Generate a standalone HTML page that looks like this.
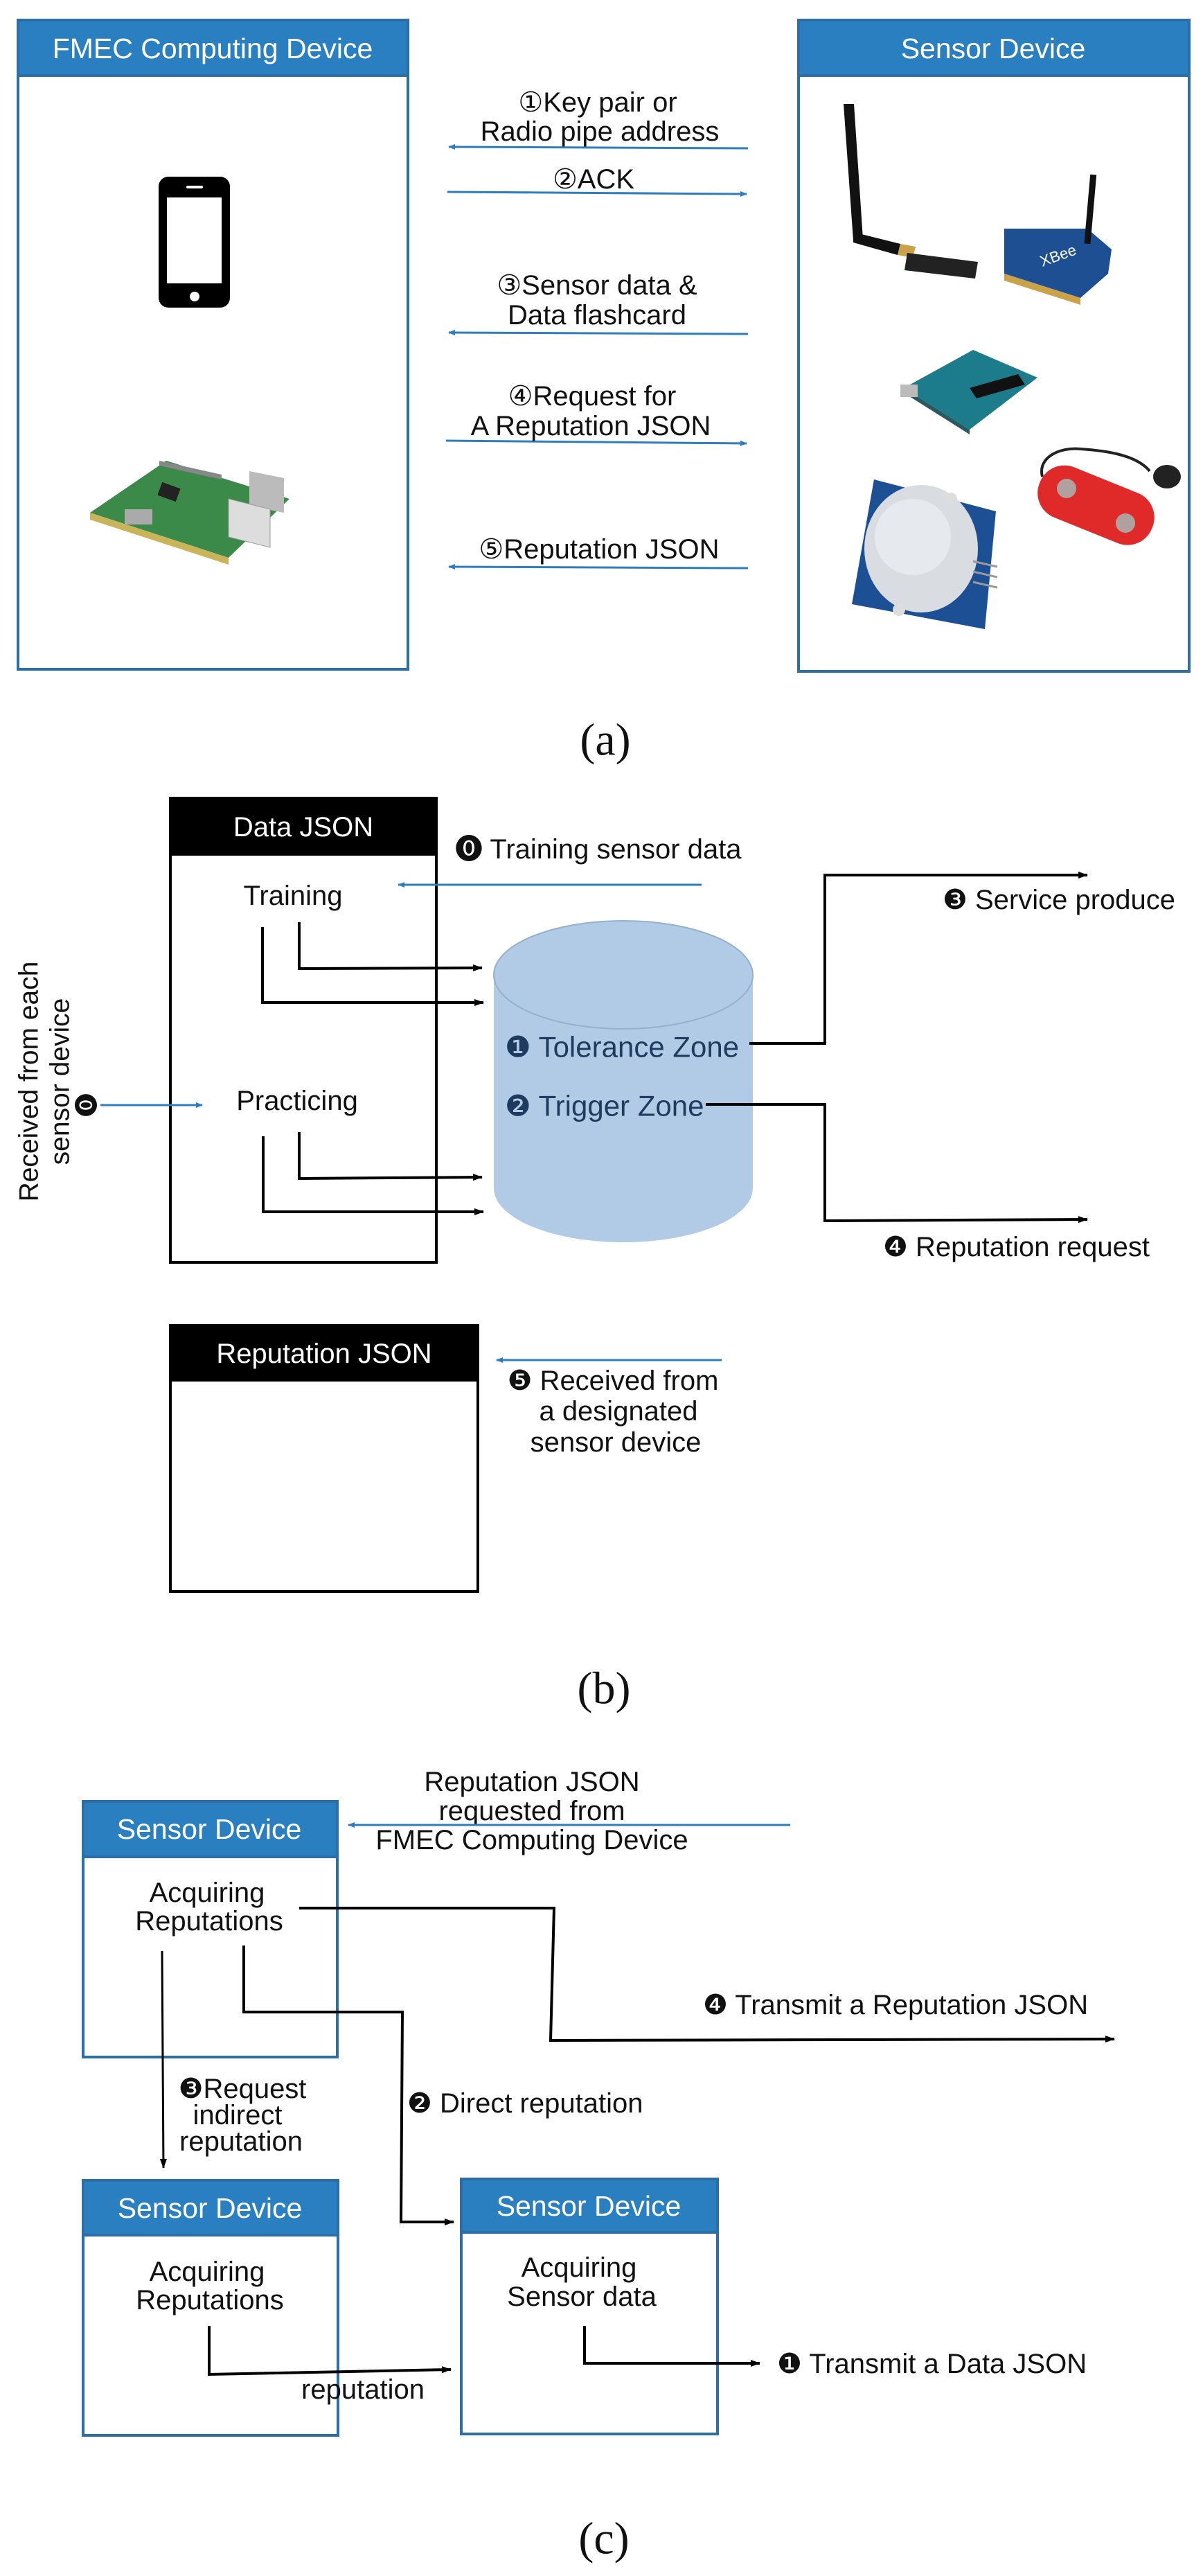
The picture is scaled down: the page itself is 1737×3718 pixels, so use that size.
<!DOCTYPE html>
<html><head><meta charset="utf-8"><style>
html,body{margin:0;padding:0;background:#fff}
svg{display:block}
text{font-family:"Liberation Sans","DejaVu Sans",sans-serif;fill:#111}
.s{font-size:40px}
.w{fill:#fff}
.cap{font-family:"Liberation Serif",serif;font-size:66px}
</style></head><body>
<svg width="1737" height="3718" viewBox="0 0 1737 3718" xmlns="http://www.w3.org/2000/svg">
<defs>
<marker id="ab" markerWidth="10" markerHeight="10" refX="9" refY="5" orient="auto" markerUnits="userSpaceOnUse"><path d="M0,1 L10,5 L0,9 z" fill="#2e7dc0"/></marker>
<marker id="ak" markerWidth="14" markerHeight="12" refX="13" refY="6" orient="auto" markerUnits="userSpaceOnUse"><path d="M0,1 L14,6 L0,11 z" fill="#000"/></marker>
</defs>

<!-- ===== Panel (a) ===== -->
<rect x="26" y="29" width="563" height="937" fill="#fff" stroke="#2e6ea6" stroke-width="4"/>
<rect x="26" y="29" width="563" height="80" fill="#2a7fc1" stroke="#2e6ea6" stroke-width="4"/>
<text x="307" y="70" class="w" font-size="41" text-anchor="middle" dominant-baseline="central">FMEC Computing Device</text>
<rect x="1153" y="29" width="564" height="940" fill="#fff" stroke="#2e6ea6" stroke-width="4"/>
<rect x="1153" y="29" width="564" height="80" fill="#2a7fc1" stroke="#2e6ea6" stroke-width="4"/>
<text x="1434" y="70" class="w" font-size="41" text-anchor="middle" dominant-baseline="central">Sensor Device</text>

<!-- phone -->
<rect x="229" y="255" width="103" height="189" rx="14" fill="#000"/>
<rect x="241" y="285" width="79" height="124" fill="#fff"/>
<rect x="269" y="268" width="24" height="4" rx="2" fill="#fff"/>
<circle cx="281" cy="428" r="7" fill="#fff"/>

<!-- raspberry pi -->
<polygon points="130,740 240,665 418,720 330,805" fill="#3c8a4a"/>
<polygon points="130,740 330,805 330,815 130,750" fill="#c9b45a"/>
<rect x="230" y="700" width="28" height="20" fill="#222" transform="rotate(20 244 710)"/>
<polygon points="360,680 410,690 410,740 360,730" fill="#bbb"/>
<polygon points="330,720 390,735 390,790 330,775" fill="#ddd" stroke="#999"/>
<polygon points="230,665 320,685 320,692 230,672" fill="#888"/>
<rect x="180" y="735" width="40" height="22" fill="#aaa"/>

<!-- antenna module 1 -->
<polygon points="1218,150 1233,150 1246,345 1232,347" fill="#111"/>
<polygon points="1232,335 1300,352 1296,368 1232,350" fill="#111"/>
<polygon points="1300,352 1322,356 1318,372 1296,368" fill="#c9a24a"/>
<polygon points="1310,365 1412,378 1408,402 1306,390" fill="#222"/>
<!-- xbee -->
<polygon points="1450,330 1570,330 1605,360 1600,395 1560,430 1450,395" fill="#1e4f92"/>
<polygon points="1450,395 1560,430 1560,440 1450,405" fill="#c9a24a"/>
<rect x="1570" y="252" width="9" height="100" fill="#111" transform="rotate(5 1575 300)"/>
<text x="1505" y="385" font-size="22" class="w" transform="rotate(-20 1505 385)">XBee</text>

<!-- arduino -->
<polygon points="1305,560 1405,505 1498,545 1400,620" fill="#1d7c8c"/>
<polygon points="1305,560 1400,620 1400,627 1305,567" fill="#2a5a60"/>
<rect x="1300" y="555" width="25" height="18" fill="#bbb"/>
<polygon points="1400,560 1470,540 1480,555 1410,575" fill="#111"/>

<!-- PIR -->
<polygon points="1262,692 1438,738 1422,908 1230,872" fill="#1d4f95"/>
<ellipse cx="1330" cy="792" rx="82" ry="92" fill="#d9dde2"/>
<ellipse cx="1318" cy="775" rx="55" ry="55" fill="#e6e9ed"/>
<circle cx="1373" cy="720" r="9" fill="#ddd"/>
<circle cx="1298" cy="880" r="9" fill="#ddd"/>
<line x1="1405" y1="810" x2="1440" y2="818" stroke="#999" stroke-width="3"/>
<line x1="1405" y1="825" x2="1440" y2="833" stroke="#999" stroke-width="3"/>
<line x1="1405" y1="840" x2="1440" y2="848" stroke="#999" stroke-width="3"/>

<!-- red sensor -->
<path d="M1505,688 C1498,660 1530,645 1560,648 C1590,650 1640,655 1660,680" fill="none" stroke="#222" stroke-width="4"/>
<ellipse cx="1685" cy="688" rx="20" ry="17" fill="#222"/>
<rect x="1495" y="690" width="175" height="78" rx="38" fill="#e02a2a" transform="rotate(22 1582 729)"/>
<circle cx="1540" cy="705" r="14" fill="#b0a0a0"/>
<circle cx="1625" cy="755" r="14" fill="#b0a0a0"/>

<!-- arrows (a) -->
<line x1="1080" y1="214" x2="648" y2="212" stroke="#2e7dc0" stroke-width="3" marker-end="url(#ab)"/>
<line x1="646" y1="277" x2="1078" y2="280" stroke="#2e7dc0" stroke-width="3" marker-end="url(#ab)"/>
<line x1="1080" y1="482" x2="648" y2="480" stroke="#2e7dc0" stroke-width="3" marker-end="url(#ab)"/>
<line x1="644" y1="636" x2="1078" y2="640" stroke="#2e7dc0" stroke-width="3" marker-end="url(#ab)"/>
<line x1="1080" y1="820" x2="648" y2="818" stroke="#2e7dc0" stroke-width="3" marker-end="url(#ab)"/>
<text x="863" y="148" class="s" text-anchor="middle" dominant-baseline="central">①Key pair or</text>
<text x="866" y="190" class="s" text-anchor="middle" dominant-baseline="central">Radio pipe address</text>
<text x="857" y="259" class="s" text-anchor="middle" dominant-baseline="central">②ACK</text>
<text x="862" y="412" class="s" text-anchor="middle" dominant-baseline="central">③Sensor data &amp;</text>
<text x="862" y="455" class="s" text-anchor="middle" dominant-baseline="central">Data flashcard</text>
<text x="855" y="572" class="s" text-anchor="middle" dominant-baseline="central">④Request for</text>
<text x="853" y="615" class="s" text-anchor="middle" dominant-baseline="central">A Reputation JSON</text>
<text x="865" y="793" class="s" text-anchor="middle" dominant-baseline="central">⑤Reputation JSON</text>
<text x="874" y="1068" class="cap" text-anchor="middle" dominant-baseline="central">(a)</text>

<!-- ===== Panel (b) ===== -->
<rect x="246" y="1152" width="384" height="670" fill="#fff" stroke="#000" stroke-width="4"/>
<rect x="246" y="1152" width="384" height="83" fill="#000"/>
<text x="438" y="1194" class="w" font-size="40" text-anchor="middle" dominant-baseline="central">Data JSON</text>
<text x="423" y="1293" class="s" text-anchor="middle" dominant-baseline="central">Training</text>
<text x="429" y="1589" class="s" text-anchor="middle" dominant-baseline="central">Practicing</text>
<line x1="1013" y1="1277" x2="575" y2="1277" stroke="#2e7dc0" stroke-width="3" marker-end="url(#ab)"/>
<text x="657" y="1226" class="s" dominant-baseline="central">⓿ Training sensor data</text>

<!-- cylinder -->
<path d="M713,1407 L713,1715 A187,78 0 0 0 1087,1715 L1087,1407 Z" fill="#b1cbe6"/>
<ellipse cx="900" cy="1407" rx="187" ry="78" fill="#b1cbe6" stroke="#93b0cf" stroke-width="2"/>
<text x="729" y="1511" font-size="42" style="fill:#1e3a5f" dominant-baseline="central">❶ Tolerance Zone</text>
<text x="729" y="1596" font-size="42" style="fill:#1e3a5f" dominant-baseline="central">❷ Trigger Zone</text>

<!-- training / practicing lines -->
<polyline points="432,1331 432,1398 696,1397" fill="none" stroke="#000" stroke-width="4" marker-end="url(#ak)"/>
<polyline points="379,1338 379,1447 698,1447" fill="none" stroke="#000" stroke-width="4" marker-end="url(#ak)"/>
<polyline points="432,1634 432,1701 696,1699" fill="none" stroke="#000" stroke-width="4" marker-end="url(#ak)"/>
<polyline points="380,1640 380,1749 698,1749" fill="none" stroke="#000" stroke-width="4" marker-end="url(#ak)"/>

<!-- zones out -->
<polyline points="1082,1506 1191,1506 1191,1263 1570,1263" fill="none" stroke="#000" stroke-width="4" marker-end="url(#ak)"/>
<text x="1361" y="1299" class="s" dominant-baseline="central">❸ Service produce</text>
<polyline points="1019,1594 1191,1594 1191,1762 1570,1760" fill="none" stroke="#000" stroke-width="4" marker-end="url(#ak)"/>
<text x="1275" y="1800" class="s" dominant-baseline="central">❹ Reputation request</text>

<!-- left rotated label -->
<text transform="translate(42,1561) rotate(-90)" font-size="39" text-anchor="middle" dominant-baseline="central">Received from each</text>
<text transform="translate(87,1561) rotate(-90)" font-size="39" text-anchor="middle" dominant-baseline="central">sensor device</text>
<text transform="translate(126,1595) rotate(-90)" font-size="34" text-anchor="middle" dominant-baseline="central">⓿</text>
<line x1="145" y1="1595" x2="292" y2="1595" stroke="#2e7dc0" stroke-width="3" marker-end="url(#ab)"/>

<!-- Reputation JSON box -->
<rect x="246" y="1913" width="444" height="384" fill="#fff" stroke="#000" stroke-width="4"/>
<rect x="246" y="1913" width="444" height="81" fill="#000"/>
<text x="468" y="1954" class="w" font-size="40" text-anchor="middle" dominant-baseline="central">Reputation JSON</text>
<line x1="1042" y1="1963" x2="717" y2="1963" stroke="#2e7dc0" stroke-width="3" marker-end="url(#ab)"/>
<text x="885" y="1993" class="s" text-anchor="middle" dominant-baseline="central">❺ Received from</text>
<text x="893" y="2037" class="s" text-anchor="middle" dominant-baseline="central">a designated</text>
<text x="889" y="2082" class="s" text-anchor="middle" dominant-baseline="central">sensor device</text>
<text x="872" y="2437" class="cap" text-anchor="middle" dominant-baseline="central">(b)</text>

<!-- ===== Panel (c) ===== -->
<g stroke="#2e6ea6" stroke-width="4">
<rect x="120" y="2600" width="367" height="369" fill="#fff"/>
<rect x="120" y="2600" width="367" height="80" fill="#2a7fc1"/>
<rect x="120" y="3147" width="368" height="368" fill="#fff"/>
<rect x="120" y="3147" width="368" height="79" fill="#2a7fc1"/>
<rect x="666" y="3145" width="370" height="368" fill="#fff"/>
<rect x="666" y="3145" width="370" height="77" fill="#2a7fc1"/>
</g>
<text x="302" y="2640" class="w" font-size="41" text-anchor="middle" dominant-baseline="central">Sensor Device</text>
<text x="303" y="3187" class="w" font-size="41" text-anchor="middle" dominant-baseline="central">Sensor Device</text>
<text x="850" y="3184" class="w" font-size="41" text-anchor="middle" dominant-baseline="central">Sensor Device</text>

<text x="768" y="2572" class="s" text-anchor="middle" dominant-baseline="central">Reputation JSON</text>
<text x="768" y="2614" class="s" text-anchor="middle" dominant-baseline="central">requested from</text>
<text x="768" y="2656" class="s" text-anchor="middle" dominant-baseline="central">FMEC Computing Device</text>
<line x1="1141" y1="2634" x2="503" y2="2634" stroke="#2e7dc0" stroke-width="3" marker-end="url(#ab)"/>

<text x="299" y="2732" class="s" text-anchor="middle" dominant-baseline="central">Acquiring</text>
<text x="302" y="2773" class="s" text-anchor="middle" dominant-baseline="central">Reputations</text>
<text x="299" y="3279" class="s" text-anchor="middle" dominant-baseline="central">Acquiring</text>
<text x="303" y="3320" class="s" text-anchor="middle" dominant-baseline="central">Reputations</text>
<text x="836" y="3273" class="s" text-anchor="middle" dominant-baseline="central">Acquiring</text>
<text x="840" y="3315" class="s" text-anchor="middle" dominant-baseline="central">Sensor data</text>

<polyline points="432,2754 800,2754 795,2945 1609,2943" fill="none" stroke="#000" stroke-width="4" marker-end="url(#ak)"/>
<text x="1015" y="2894" class="s" dominant-baseline="central">❹ Transmit a Reputation JSON</text>
<polyline points="352,2808 352,2904 581,2904 579,3207 655,3207" fill="none" stroke="#000" stroke-width="4" marker-end="url(#ak)"/>
<text x="588" y="3036" class="s" dominant-baseline="central">❷ Direct reputation</text>
<polyline points="234,2816 236,3129" fill="none" stroke="#000" stroke-width="3" marker-end="url(#ak)"/>
<text x="350" y="3015" class="s" text-anchor="middle" dominant-baseline="central">❸Request</text>
<text x="343" y="3053" class="s" text-anchor="middle" dominant-baseline="central">indirect</text>
<text x="348" y="3091" class="s" text-anchor="middle" dominant-baseline="central">reputation</text>
<polyline points="302,3357 302,3427 651,3420" fill="none" stroke="#000" stroke-width="4" marker-end="url(#ak)"/>
<text x="524" y="3449" class="s" text-anchor="middle" dominant-baseline="central">reputation</text>
<polyline points="844,3357 844,3411 1097,3411" fill="none" stroke="#000" stroke-width="4" marker-end="url(#ak)"/>
<text x="1122" y="3412" class="s" dominant-baseline="central">❶ Transmit a Data JSON</text>
<text x="872" y="3664" class="cap" text-anchor="middle" dominant-baseline="central">(c)</text>
</svg>
</body></html>
